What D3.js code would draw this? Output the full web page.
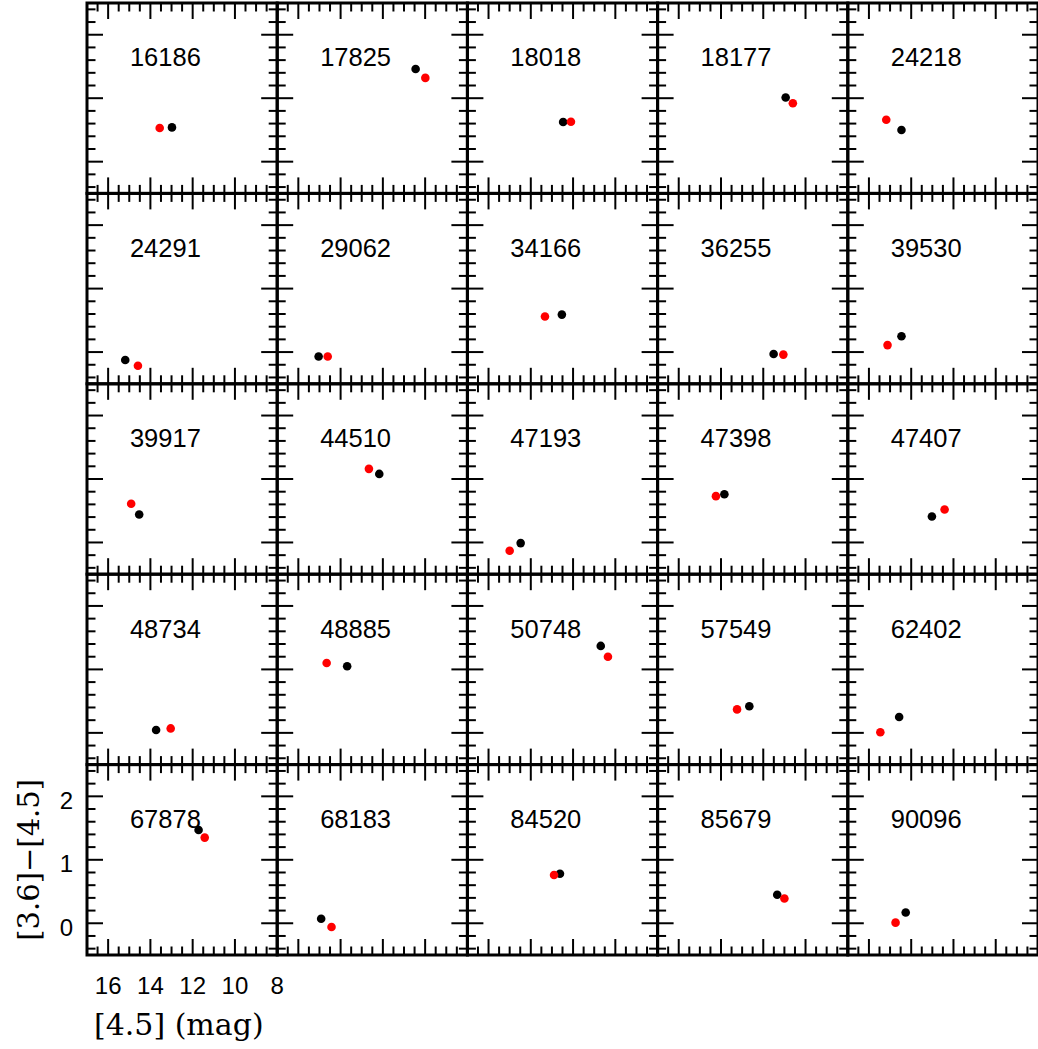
<!DOCTYPE html>
<html>
<head>
<meta charset="utf-8">
<script src="https://cdn.jsdelivr.net/npm/d3@7"></script>
<style>
  html, body { margin: 0; padding: 0; background: #fff; }
  svg { display: block; }
</style>
</head>
<body>
<svg id="chart" width="1038" height="1049"></svg>
<script>
// Star IDs, one panel each, read left-to-right, top-to-bottom
const ids = [
  "16186", "17825", "18018", "18177", "24218",
  "24291", "29062", "34166", "36255", "39530",
  "39917", "44510", "47193", "47398", "47407",
  "48734", "48885", "50748", "57549", "62402",
  "67878", "68183", "84520", "85679", "90096"
];

// First epoch (black): [4.5] magnitude and [3.6]-[4.5] colour
const blackMag = [
  12.98, 10.45, 12.47, 10.94, 14.46,
  15.19, 15.04, 12.53, 11.51, 14.46,
  14.53, 12.17, 14.48, 13.84, 13.02,
  13.73, 13.69, 10.69, 12.66, 14.57,
  11.72, 14.92, 12.62, 11.34, 14.26
];
const blackColor = [
  0.54, 1.46, 0.625, 1.01, 0.50,
  -0.125, -0.07, 0.59, -0.03, 0.25,
  0.44, 1.08, -0.01, 0.76, 0.41,
  0.045, 1.05, 1.37, 0.42, 0.25,
  1.47, 0.07, 0.78, 0.45, 0.17
];

// Second epoch (red)
const redMag = [
  13.56, 9.99, 12.10, 10.60, 15.18,
  14.59, 14.61, 13.33, 11.05, 15.12,
  14.91, 12.66, 15.00, 14.24, 12.42,
  13.04, 14.66, 10.35, 13.24, 15.46,
  11.43, 14.43, 12.90, 11.00, 14.74
];
const redColor = [
  0.53, 1.32, 0.63, 0.92, 0.66,
  -0.215, -0.07, 0.56, -0.04, 0.11,
  0.61, 1.16, -0.13, 0.73, 0.52,
  0.07, 1.10, 1.20, 0.37, 0.01,
  1.35, -0.06, 0.76, 0.39, 0.01
];

// Axis ticks
const xMajor = [16, 14, 12, 10, 8];
const xMinor = d3.range(8, 17.001, 0.5);
const yMajor = [0, 1, 2];
const yMinor = d3.range(-0.4, 2.401, 0.2).map(v => +v.toFixed(1));
const xTickLabels = ["16", "14", "12", "10", "8"];
const yTickLabels = ["0", "1", "2"];

// Layout
const nCols = 5, nRows = 5;
const gridLeft = 87, gridTop = 3;
const pw = 190.2, ph = 190.4;
const majorLen = 16, minorLen = 8.5;

const svg = d3.select("#chart");

const x = d3.scaleLinear().domain([17, 8]).range([0, pw]);
const y = d3.scaleLinear().domain([-0.5, 2.5]).range([ph, 0]);

const sansFont = "Liberation Sans, Arial, Helvetica, sans-serif";
const serifFont = "DejaVu Serif, serif";

ids.forEach((id, i) => {
  const c = i % nCols, r = Math.floor(i / nCols);
  const g = svg.append("g")
    .attr("transform", `translate(${gridLeft + c * pw},${gridTop + r * ph})`);

  // inward ticks on all four sides
  const tickGroup = g.append("g")
    .attr("stroke", "#000")
    .attr("stroke-width", 2);

  const drawX = (vals, len) => {
    tickGroup.selectAll(null).data(vals).enter().append("line")
      .attr("x1", d => x(d)).attr("x2", d => x(d))
      .attr("y1", ph).attr("y2", ph - len);
    tickGroup.selectAll(null).data(vals).enter().append("line")
      .attr("x1", d => x(d)).attr("x2", d => x(d))
      .attr("y1", 0).attr("y2", len);
  };
  const drawY = (vals, len) => {
    tickGroup.selectAll(null).data(vals).enter().append("line")
      .attr("y1", d => y(d)).attr("y2", d => y(d))
      .attr("x1", 0).attr("x2", len);
    tickGroup.selectAll(null).data(vals).enter().append("line")
      .attr("y1", d => y(d)).attr("y2", d => y(d))
      .attr("x1", pw).attr("x2", pw - len);
  };
  drawX(xMinor.filter(v => !xMajor.includes(v)), minorLen);
  drawX(xMajor, majorLen);
  drawY(yMinor.filter(v => !yMajor.includes(v)), minorLen);
  drawY(yMajor, majorLen);

  // panel frame
  g.append("rect")
    .attr("x", 0).attr("y", 0)
    .attr("width", pw).attr("height", ph)
    .attr("fill", "none")
    .attr("stroke", "#000")
    .attr("stroke-width", 3);

  // star ID
  g.append("text")
    .attr("x", 78.4)
    .attr("y", y(1.5))
    .attr("text-anchor", "middle")
    .attr("font-family", sansFont)
    .attr("font-size", 25.5)
    .attr("fill", "#000")
    .text(id);

  // the two epochs
  g.append("circle")
    .attr("cx", x(blackMag[i])).attr("cy", y(blackColor[i]))
    .attr("r", 4.3).attr("fill", "#000");
  g.append("circle")
    .attr("cx", x(redMag[i])).attr("cy", y(redColor[i]))
    .attr("r", 4.3).attr("fill", "#ff0000");

  // tick labels only on the bottom-left panel
  if (c === 0 && r === nRows - 1) {
    g.selectAll(null).data(xMajor).enter().append("text")
      .attr("x", d => x(d))
      .attr("y", ph + 39)
      .attr("text-anchor", "middle")
      .attr("font-family", sansFont)
      .attr("font-size", 24)
      .text((d, k) => xTickLabels[k]);
    g.selectAll(null).data(yMajor).enter().append("text")
      .attr("x", -14)
      .attr("y", d => y(d) + 12.5)
      .attr("text-anchor", "end")
      .attr("font-family", sansFont)
      .attr("font-size", 24)
      .text((d, k) => yTickLabels[k]);
  }
});

// axis titles
const p0x = gridLeft, p0y = gridTop + (nRows - 1) * ph;
svg.append("text")
  .attr("x", p0x + 7)
  .attr("y", 1035)
  .attr("font-family", serifFont)
  .attr("font-size", 30)
  .text("[4.5] (mag)");

svg.append("text")
  .attr("transform", `translate(39,${p0y + y(1)}) rotate(-90)`)
  .attr("text-anchor", "middle")
  .attr("font-family", serifFont)
  .attr("font-size", 29)
  .text("[3.6]\u2212[4.5]");
</script>
</body>
</html>
